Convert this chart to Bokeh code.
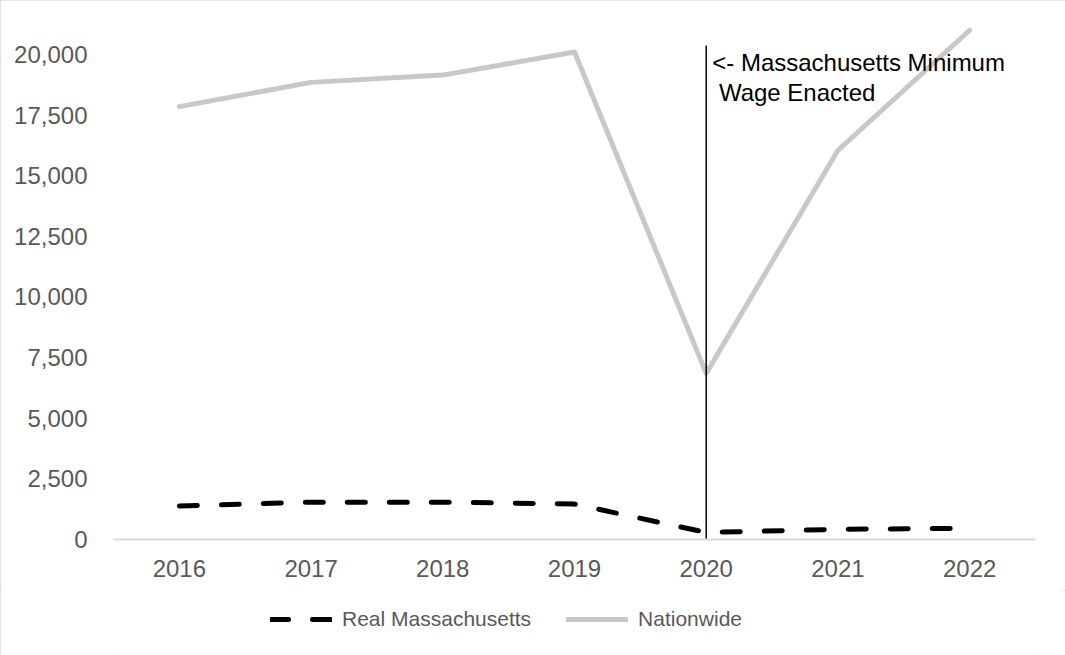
from bokeh.plotting import figure
from bokeh.layouts import column
from bokeh.models import FactorRange, Range1d, FixedTicker, NumeralTickFormatter, Legend, LegendItem
from bokeh.core.properties import value
from bokeh.embed import file_html
from bokeh.resources import INLINE

years = ["2016", "2017", "2018", "2019", "2020", "2021", "2022"]
real_massachusetts = [1380, 1540, 1540, 1460, 290, 420, 460]
nationwide = [17850, 18850, 19150, 20100, 6850, 16050, 21000]
y_ticks = [0, 2500, 5000, 7500, 10000, 12500, 15000, 17500, 20000]
series_names = ["Real Massachusetts", "Nationwide"]
event_year = "2020"
event_line_top = 20370
event_label = "<- Massachusetts Minimum\n\u00a0Wage Enacted"

FONT = "Liberation Sans"
MA_STYLE = dict(line_color="black", line_width=5, line_dash="18 24",
                line_cap="round", line_join="round")
NAT_STYLE = dict(line_color="#c8c8c8", line_width=5,
                 line_cap="round", line_join="round")

p = figure(
    x_range=FactorRange(*years),
    y_range=Range1d(0, 21814),
    width=1065, height=590,
    output_backend="svg", toolbar_location=None,
    min_border_left=113, min_border_right=30,
    min_border_top=10, min_border_bottom=51,
)
p.outline_line_color = None
p.grid.grid_line_color = None
p.background_fill_color = "white"
p.border_fill_color = "white"

r_nat = p.line(years, nationwide, **NAT_STYLE)
r_ma = p.line(years, real_massachusetts, **MA_STYLE)

p.segment(x0=[event_year], y0=[0], x1=[event_year], y1=[event_line_top],
          line_color="black", line_width=1.5)
p.text(x=[event_year], y=[event_line_top], text=[event_label],
       x_offset=6, y_offset=3,
       text_font=value(FONT), text_font_size="24px", text_color="black",
       text_baseline="top", text_align="left", text_line_height=1.13)

xa = p.xaxis[0]
xa.axis_line_color = "#d9d9d9"
xa.axis_line_width = 2
xa.major_tick_line_color = None
xa.minor_tick_line_color = None
xa.major_label_text_font = FONT
xa.major_label_text_font_size = "24px"
xa.major_label_text_color = "#595959"
xa.major_label_standoff = 14

ya = p.yaxis[0]
ya.axis_line_color = None
ya.major_tick_line_color = None
ya.minor_tick_line_color = None
ya.ticker = FixedTicker(ticks=y_ticks)
ya.formatter = NumeralTickFormatter(format="0,0")
ya.major_label_text_font = FONT
ya.major_label_text_font_size = "24px"
ya.major_label_text_color = "#595959"
ya.major_label_standoff = 20

# legend strip below the chart (same series, drawn out of view; only the legend shows)
leg = figure(width=1065, height=65, x_range=FactorRange(*years), y_range=Range1d(-2, -1),
             output_backend="svg", toolbar_location=None,
             min_border=0, min_border_left=0, min_border_right=0,
             min_border_top=0, min_border_bottom=0)
leg.axis.visible = False
leg.grid.grid_line_color = None
leg.outline_line_color = None
leg.background_fill_color = "white"
leg.border_fill_color = "white"
lr_ma = leg.line(years, real_massachusetts, **MA_STYLE)
lr_nat = leg.line(years, nationwide, **NAT_STYLE)

legend = Legend(
    items=[LegendItem(label=series_names[0], renderers=[lr_ma]),
           LegendItem(label=series_names[1], renderers=[lr_nat])],
    orientation="horizontal", location=(157, 24),
    border_line_color=None, background_fill_alpha=0,
    padding=0, margin=0, spacing=35,
    glyph_width=62, glyph_height=24, label_standoff=10,
    label_height=24,
    label_text_font=FONT, label_text_font_size="21px", label_text_color="#595959",
)
leg.add_layout(legend)

layout = column(p, leg, spacing=0,
                styles={"outline": "2px solid #d9d9d9", "outline-offset": "-2px"})

open("out.html", "w").write(file_html(layout, INLINE))
